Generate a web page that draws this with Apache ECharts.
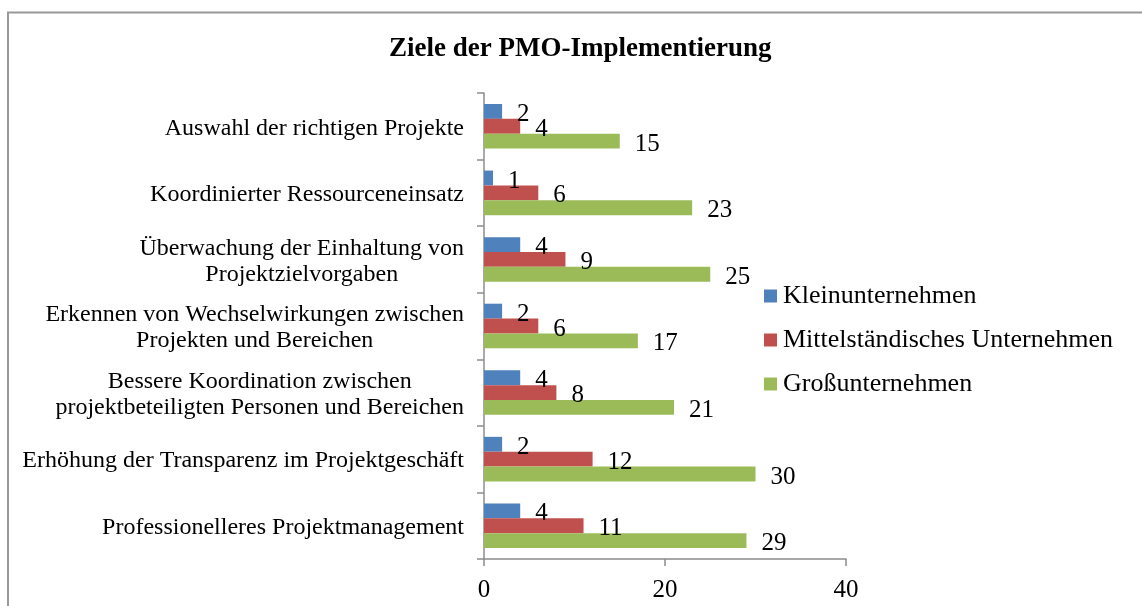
<!DOCTYPE html>
<html>
<head>
<meta charset="utf-8">
<title>Ziele der PMO-Implementierung</title>
<script src="https://cdn.jsdelivr.net/npm/echarts@6/dist/echarts.min.js"></script>
<style>
	html,body{margin:0;padding:0;background:#fff;}
	#chart{width:1142px;height:606px;}
</style>
</head>
<body>
<div id="chart"></div>
<script>
// categories, bottom to top as the y axis draws them
var categories = [
	'Professionelleres Projektmanagement',
	'Erhöhung der Transparenz im Projektgeschäft',
	'Bessere Koordination zwischen\nprojektbeteiligten Personen und Bereichen',
	'Erkennen von Wechselwirkungen zwischen\nProjekten und Bereichen',
	'Überwachung der Einhaltung von\nProjektzielvorgaben',
	'Koordinierter Ressourceneinsatz',
	'Auswahl der richtigen Projekte'
];
var seriesNames = ['Kleinunternehmen', 'Mittelständisches Unternehmen', 'Großunternehmen'];
var kleinData = [4, 2, 4, 2, 4, 1, 2];
var mittelData = [11, 12, 8, 6, 9, 6, 4];
var grossData = [29, 30, 21, 17, 25, 23, 15];
var colors = ['#4F81BD', '#C0504D', '#9BBB59'];

var FONT = "'Liberation Serif', 'Times New Roman', serif";

/**
 * build one bar series
 */
function makeSeries(name, data, color){
	return {
		name: name,
		type: 'bar',
		data: data,
		barGap: '0%',
		barCategoryGap: '33%',
		itemStyle: {color: color},
		label: {
			show: true,
			position: 'right',
			distance: 15,
			offset: [0, 3],
			color: '#000',
			fontFamily: FONT,
			fontSize: 25
		}
	};
}

/**
 * init chart
 */
function initEchart(){
	var chart = echarts.init(document.getElementById('chart'));
	var option = {
		animation: false,
		backgroundColor: '#fff',
		title: {
			text: 'Ziele der PMO-Implementierung',
			left: 389,
			top: 36,
			padding: 0,
			textStyle: {fontFamily: FONT, fontSize: 27, fontWeight: 'bold', color: '#000'}
		},
		legend: {
			orient: 'vertical',
			left: 764,
			top: 283,
			padding: 0,
			itemWidth: 13,
			itemHeight: 13,
			itemGap: 18,
			icon: 'rect',
			textStyle: {fontFamily: FONT, fontSize: 26, color: '#000', padding: [2, 0, 0, 1]},
			data: seriesNames
		},
		grid: {left: 484, right: 296, top: 93, bottom: 47, containLabel: false},
		xAxis: {
			type: 'value',
			min: 0,
			max: 40,
			interval: 20,
			splitLine: {show: false},
			axisLine: {show: true, lineStyle: {color: '#8c8c8c', width: 1.5}},
			axisTick: {show: true, length: 7, lineStyle: {color: '#8c8c8c', width: 1.5}},
			axisLabel: {fontFamily: FONT, fontSize: 25, color: '#000', margin: 19}
		},
		yAxis: {
			type: 'category',
			data: categories,
			axisLine: {show: true, lineStyle: {color: '#8c8c8c', width: 1.5}},
			axisTick: {show: true, length: 7, lineStyle: {color: '#8c8c8c', width: 1.5}},
			axisLabel: {
				margin: 20,
				align: 'right',
				padding: [4, 0, 0, 0],
				formatter: function(v){
					return v.split('\n').map(function(s){ return '{c|' + s + '}'; }).join('\n');
				},
				rich: {
					c: {fontFamily: FONT, fontSize: 24, color: '#000', align: 'center', lineHeight: 26}
				}
			}
		},
		graphic: [{
			type: 'rect',
			shape: {x: 8, y: 12.5, width: 1300, height: 800},
			style: {fill: 'none', stroke: '#999', lineWidth: 2}
		}],
		series: [
			makeSeries(seriesNames[0], kleinData, colors[0]),
			makeSeries(seriesNames[1], mittelData, colors[1]),
			makeSeries(seriesNames[2], grossData, colors[2])
		]
	};
	chart.setOption(option);
	return chart;
}

initEchart();
</script>
</body>
</html>
